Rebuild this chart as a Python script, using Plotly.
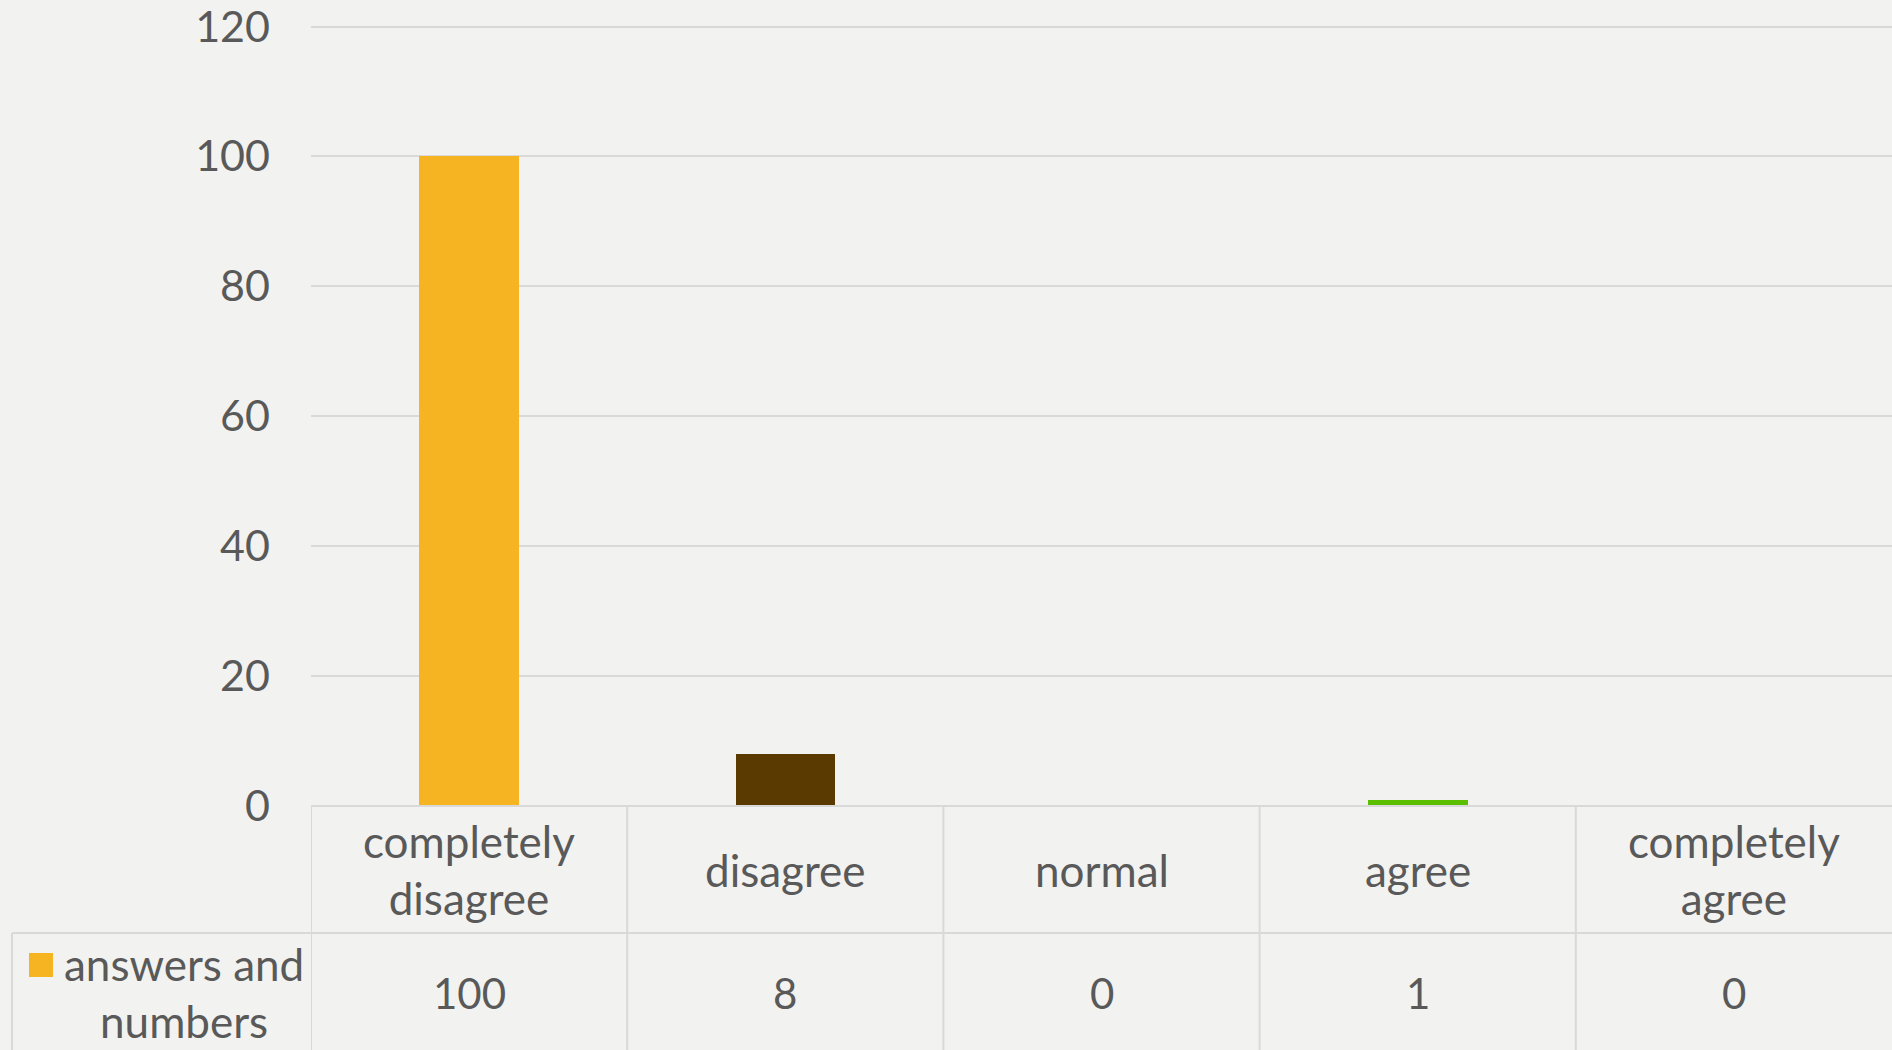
import plotly.graph_objects as go

# Survey responses
categories = ["completely disagree", "disagree", "normal", "agree", "completely agree"]
category_labels = ["completely<br>disagree", "disagree", "normal", "agree", "completely<br>agree"]
answers = [100, 8, 0, 1, 0]
bar_colors = ["#F6B322", "#5A3A00", "#8C8C8C", "#5BBF00", "#3B7DD8"]
series_name = "answers and<br>numbers"
y_ticks = [0, 20, 40, 60, 80, 100, 120]

BG = "#F2F2F0"
TEXT = "#595959"
GRID = "#D9D9D9"
FONT = "Lato, 'Open Sans', sans-serif"

W, H = 1892, 1050
plot_left = 311
y_zero_px = 806
y_max = 121
y_top_px = y_zero_px - y_max * (806 - 26.5) / 120
row_split_px = 933
legend_left_px = 12


def py(px):
    """Convert a pixel row (from top) to paper y."""
    return (H - px) / H


def px_x(px):
    return px / W


x_idx = list(range(len(categories)))

fig = go.Figure()
fig.add_trace(go.Bar(
    x=x_idx,
    y=answers,
    marker=dict(color=bar_colors, line=dict(width=0)),
    width=0.315,
    name="answers and numbers",
    showlegend=False,
    hoverinfo="x+y",
))

shapes = []
line_style = dict(color=GRID, width=2)

# Horizontal table rules
shapes.append(dict(type="line", xref="paper", yref="paper",
                   x0=px_x(plot_left), x1=1, y0=py(y_zero_px), y1=py(y_zero_px),
                   line=line_style))
shapes.append(dict(type="line", xref="paper", yref="paper",
                   x0=px_x(legend_left_px), x1=1, y0=py(row_split_px), y1=py(row_split_px),
                   line=line_style))
# Left edge of the legend cell
shapes.append(dict(type="line", xref="paper", yref="paper",
                   x0=px_x(legend_left_px), x1=px_x(legend_left_px),
                   y0=py(row_split_px), y1=0, line=line_style))
# Column dividers at category boundaries
for i in range(len(categories)):
    xb = i - 0.5
    shapes.append(dict(type="line", xref="x", yref="paper",
                       x0=xb, x1=xb, y0=py(y_zero_px), y1=0, line=line_style))

# Legend key square
shapes.append(dict(type="rect", xref="paper", yref="paper",
                   x0=px_x(29), x1=px_x(53), y0=py(977), y1=py(953),
                   fillcolor=bar_colors[0], line=dict(width=0)))

annotations = []
for i, lab in enumerate(category_labels):
    annotations.append(dict(
        x=i, xref="x", y=py(870), yref="paper",
        text=lab, showarrow=False, xanchor="center", yanchor="middle",
        font=dict(family=FONT, size=44, color=TEXT), align="center",
    ))
    annotations.append(dict(
        x=i, xref="x", y=py(993), yref="paper",
        text=str(answers[i]), showarrow=False, xanchor="center", yanchor="middle",
        font=dict(family=FONT, size=42, color=TEXT),
    ))

annotations.append(dict(
    x=px_x(184), xref="paper", y=py(992), yref="paper",
    text=series_name, showarrow=False, xanchor="center", yanchor="middle",
    font=dict(family=FONT, size=44, color=TEXT), align="center",
))

fig.update_layout(
    width=W, height=H,
    margin=dict(l=0, r=0, t=0, b=0, pad=0),
    paper_bgcolor=BG, plot_bgcolor=BG,
    font=dict(family=FONT, color=TEXT),
    bargap=0,
    shapes=shapes,
    annotations=annotations,
    xaxis=dict(
        domain=[px_x(plot_left), 1],
        range=[-0.5, len(categories) - 0.5],
        showticklabels=False, showgrid=False, zeroline=False,
        showline=False, ticks="", fixedrange=True, automargin=False,
    ),
    yaxis=dict(
        domain=[py(y_zero_px), py(y_top_px)],
        range=[0, y_max],
        tickvals=y_ticks,
        ticktext=[str(v) for v in y_ticks],
        tickfont=dict(family=FONT, size=43, color=TEXT),
        showgrid=True, gridcolor=GRID, gridwidth=2,
        zeroline=False, showline=False, ticks="",
        ticklabelstandoff=40, ticklabeloverflow="allow",
        fixedrange=True, automargin=False,
    ),
)

fig.write_html("out.html")
